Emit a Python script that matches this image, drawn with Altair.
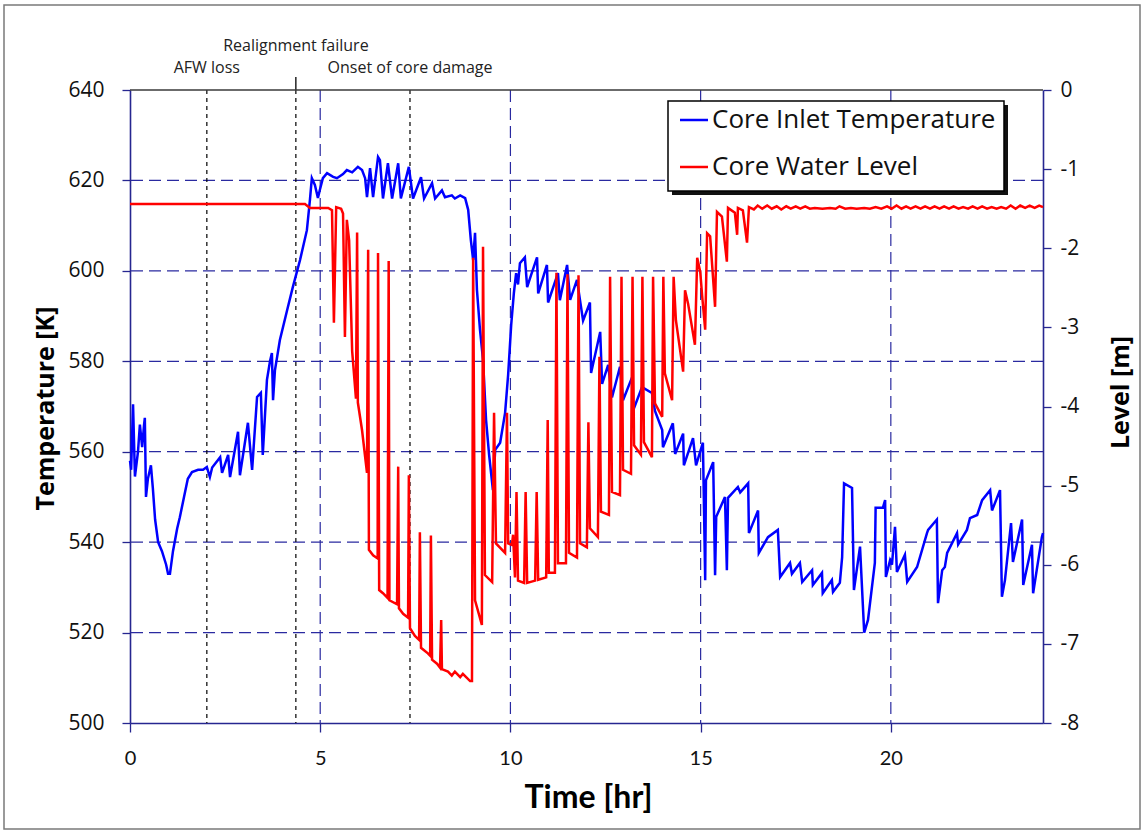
import altair as alt
import pandas as pd

# ---------------- data ----------------
hours_T = [0.00, 0.03, 0.08, 0.13, 0.21, 0.26, 0.32, 0.37, 0.39, 0.42, 0.47, 0.55, 0.60, 0.66, 0.74,
           0.84, 0.95, 1.00, 1.05, 1.13, 1.24, 1.31, 1.42, 1.52, 1.63, 1.79, 1.92, 2.02, 2.10, 2.16,
           2.37, 2.42, 2.58, 2.63, 2.84, 2.89, 3.10, 3.21, 3.34, 3.44, 3.49, 3.60, 3.68, 3.73, 3.76,
           3.81, 3.94, 4.13, 4.28, 4.47, 4.65, 4.73, 4.78, 4.86, 4.94, 4.99, 5.07, 5.18, 5.34, 5.44,
           5.60, 5.70, 5.84, 5.99, 6.10, 6.18, 6.23, 6.31, 6.39, 6.52, 6.57, 6.65, 6.78, 6.89, 7.05,
           7.12, 7.33, 7.44, 7.65, 7.73, 7.94, 8.02, 8.20, 8.28, 8.46, 8.54, 8.68, 8.81, 8.89, 8.96,
           9.02, 9.07, 9.12, 9.20, 9.28, 9.36, 9.44, 9.54, 9.60, 9.73, 9.86, 9.94, 10.02, 10.09, 10.15,
           10.20, 10.25, 10.38, 10.44, 10.54, 10.70, 10.73, 10.96, 10.99, 11.25, 11.30, 11.49, 11.57,
           11.75, 11.91, 12.09, 12.12, 12.36, 12.41, 12.57, 12.67, 12.88, 12.96, 13.20, 13.22, 13.46,
           13.72, 13.80, 13.99, 14.01, 14.27, 14.33, 14.54, 14.56, 14.80, 14.88, 15.06, 15.12, 15.14,
           15.33, 15.38, 15.41, 15.64, 15.69, 15.72, 15.98, 16.04, 16.25, 16.27, 16.51, 16.53, 16.77,
           17.03, 17.09, 17.35, 17.40, 17.61, 17.67, 17.93, 17.95, 18.19, 18.21, 18.45, 18.48, 18.66,
           18.72, 18.77, 18.98, 19.03, 19.19, 19.30, 19.40, 19.58, 19.60, 19.79, 19.85, 19.87, 19.98,
           20.03, 20.11, 20.16, 20.37, 20.43, 20.69, 20.95, 20.98, 21.21, 21.24, 21.35, 21.42, 21.48,
           21.74, 21.77, 22.00, 22.08, 22.27, 22.40, 22.61, 22.66, 22.87, 22.92, 23.00, 23.16, 23.21,
           23.45, 23.48, 23.71, 23.74, 23.97, 24.00]
temp_K = [558, 556, 570.5, 554.5, 560, 566, 561, 566, 567.5, 550, 554, 557, 552, 545, 540,
          538, 535, 533, 533, 538, 543, 545.5, 550, 554, 555.5, 556, 556, 556.6, 554.4, 556.5,
          558.8, 555.3, 559.3, 554.4, 564.4, 554.8, 566.4, 556, 572.1, 573, 559.3, 575.9, 580, 581.8, 571.4,
          578, 584.7, 591.3, 596.4, 602.4, 609, 615.7, 620.5, 619, 616.1, 617.9, 620.5, 621.6, 620.8, 620.5,
          621.4, 622.3, 621.8, 623, 622.3, 620.5, 616.3, 622.7, 616.3, 625.2, 624.5, 616, 623.8, 616, 623.8,
          616, 623, 616, 620.7, 616, 619.4, 616, 617.8, 616.3, 616.7, 616, 616.7, 616.1, 613.5, 606.8,
          602.4, 608.4, 595.8, 587, 580.3, 567, 559.3, 551.5, 560.4, 562, 568.6, 577, 588, 595, 599.5,
          597, 601.7, 603, 596.4, 599, 603, 595, 601.3, 593, 599.5, 593.5, 601.3, 593.6,
          598, 589, 593, 577.4, 586.5, 575, 579.2, 572, 578.8, 571.4, 576.5, 569, 574.3,
          573, 569, 564.8, 561, 566.3, 559.5, 564, 557, 563, 557, 562, 531.6, 553.7,
          557.7, 532.7, 545.6, 550, 533.8, 549.8, 552.2, 551, 553, 542, 547, 537.6, 541.1,
          542.7, 532.3, 535.4, 533, 535.4, 531.2, 533.8, 530.5, 533.2, 528.7, 531.6, 529, 531,
          536.7, 553, 552, 529.4, 539, 520, 522.8, 535.4, 547.6, 547.6, 549.3, 532.3, 536,
          535, 543.4, 533.4, 537.2, 531.2, 534.5, 542, 542.7, 545, 526.5, 533.8, 534.5, 537.6,
          542, 539.5, 542.7, 545.3, 546, 549.3, 551.5, 547, 551.5, 527.9, 531.6, 544.2, 535.6,
          545, 530.5, 539.4, 528.7, 541.1, 542]

hours_L = [0.00, 4.60, 4.73, 5.21, 5.31, 5.36, 5.42, 5.55, 5.60, 5.65, 5.70, 5.76, 5.84, 5.94, 5.97,
           5.99, 6.10, 6.23, 6.26, 6.28, 6.39, 6.51, 6.52, 6.55, 6.65, 6.77, 6.80, 6.82, 7.02, 7.05,
           7.07, 7.18, 7.31, 7.33, 7.36, 7.49, 7.60, 7.62, 7.65, 7.83, 7.89, 7.91, 7.94, 8.07, 8.15,
           8.18, 8.20, 8.36, 8.46, 8.54, 8.68, 8.75, 8.94, 8.99, 9.02, 9.07, 9.25, 9.28, 9.33, 9.52,
           9.57, 9.62, 9.86, 9.91, 9.94, 10.04, 10.07, 10.12, 10.16, 10.20, 10.36, 10.40, 10.44, 10.65,
           10.69, 10.73, 10.94, 10.98, 11.01, 11.17, 11.21, 11.25, 11.46, 11.50, 11.54, 11.75, 11.79,
           11.83, 12.01, 12.05, 12.09, 12.30, 12.34, 12.38, 12.59, 12.62, 12.67, 12.88, 12.92, 12.96,
           13.17, 13.21, 13.25, 13.43, 13.47, 13.51, 13.72, 13.75, 13.80, 13.99, 14.02, 14.06, 14.25,
           14.29, 14.35, 14.54, 14.59, 14.67, 14.85, 14.91, 14.99, 15.04, 15.12, 15.17, 15.25, 15.38,
           15.43, 15.56, 15.69, 15.72, 15.90, 15.96, 15.98, 16.11, 16.22, 16.27, 16.40, 16.50, 16.62,
           16.75, 16.87, 17.00, 17.12, 17.25, 17.37, 17.50, 17.62, 17.75, 17.87, 18.00, 18.20, 18.40,
           18.55, 18.65, 18.80, 18.95, 19.10, 19.30, 19.45, 19.60, 19.75, 19.90, 20.02, 20.15, 20.28,
           20.40, 20.52, 20.65, 20.78, 20.90, 21.03, 21.15, 21.28, 21.40, 21.53, 21.65, 21.78, 21.90,
           22.03, 22.15, 22.28, 22.40, 22.53, 22.65, 22.78, 22.90, 23.03, 23.15, 23.28, 23.40, 23.53,
           23.65, 23.78, 23.90, 24.00]
level_m = [-1.44, -1.44, -1.49, -1.49, -1.52, -2.94, -1.48, -1.50, -1.56, -3.12, -1.64, -1.90, -3.30, -3.90, -1.80,
           -3.95, -4.30, -4.84, -2.02, -5.81, -5.88, -5.92, -2.06, -6.32, -6.36, -6.42, -2.16, -6.45, -6.50, -4.76,
           -6.55, -6.62, -6.67, -4.87, -6.80, -6.90, -6.95, -5.59, -7.05, -7.12, -7.15, -5.63, -7.20, -7.25, -7.30,
           -6.70, -7.32, -7.35, -7.40, -7.35, -7.42, -7.38, -7.47, -7.47, -2.12, -6.45, -6.76, -1.98, -6.13, -6.22,
           -4.08, -5.73, -5.85, -4.08, -5.73, -5.75, -5.62, -6.16, -5.08, -6.20, -6.23, -5.08, -6.23, -6.20,
           -5.08, -6.19, -6.16, -4.17, -6.10, -6.10, -2.31, -5.98, -5.98, -2.33, -5.85, -5.91, -2.34,
           -5.73, -5.78, -4.20, -5.54, -5.65, -3.37, -5.33, -5.37, -2.36, -5.08, -5.12, -2.36, -4.80,
           -4.85, -2.36, -4.49, -4.61, -2.36, -4.45, -4.64, -2.36, -3.96, -4.13, -2.36, -3.58, -3.92,
           -2.36, -2.91, -3.56, -2.53, -2.70, -3.22, -2.12, -2.30, -2.60, -3.03, -1.81, -1.85, -2.74,
           -1.54, -1.60, -2.17, -1.49, -1.55, -1.83, -1.49, -1.52, -1.93, -1.48, -1.51, -1.46, -1.50,
           -1.46, -1.50, -1.47, -1.51, -1.47, -1.50, -1.47, -1.50, -1.47, -1.50, -1.49, -1.50, -1.49,
           -1.50, -1.47, -1.50, -1.49, -1.50, -1.49, -1.50, -1.48, -1.50, -1.47, -1.50, -1.46, -1.50,
           -1.47, -1.50, -1.47, -1.50, -1.47, -1.50, -1.47, -1.50, -1.47, -1.50, -1.47, -1.50, -1.48,
           -1.50, -1.47, -1.50, -1.47, -1.50, -1.48, -1.50, -1.48, -1.50, -1.46, -1.50, -1.46, -1.49,
           -1.46, -1.49, -1.46, -1.48]

event_hours = [2.02, 4.36, 7.36]
event_names = ["AFW loss", "Realignment failure", "Onset of core damage"]
temp_grid = [520, 540, 560, 580, 600, 620]
time_grid = [5, 10, 15, 20]
time_ticks = [0, 5, 10, 15, 20]
temp_ticks = [500, 520, 540, 560, 580, 600, 620, 640]
level_ticks = [0, -1, -2, -3, -4, -5, -6, -7, -8]
series_names = ["Core Inlet Temperature", "Core Water Level"]

# ---------------- tables ----------------
df_T = pd.DataFrame({"t": hours_T, "T": temp_K})
df_L = pd.DataFrame({"t": hours_L, "L": level_m})
df_ev = pd.DataFrame({"t": event_hours, "name": event_names})
df_hg = pd.DataFrame({"T": temp_grid})
df_vg = pd.DataFrame({"t": time_grid})
one = pd.DataFrame({"a": [0]})

W, H = 913, 633
NAVY = "#262690"
GRIDC = "#2a2aa0"
BLUE = "#0000FF"
RED = "#FF0000"

x_scale = alt.Scale(domain=[0, 24], nice=False, zero=False)
t_scale = alt.Scale(domain=[500, 640], nice=False, zero=False)
l_scale = alt.Scale(domain=[-8, 0], nice=False, zero=False)

x_axis = alt.Axis(values=time_ticks, title="Time [hr]", titleFont="Lato", titleFontSize=32,
                  titleFontWeight="bold", titleColor="#000", titleX=458, titleY=74,
                  titleAlign="center", titleBaseline="middle",
                  labelFont="Lato", labelFontSize=20, labelColor="#111", labelPadding=16,
                  tickSize=9, tickColor=NAVY, tickWidth=1.3, domainColor=NAVY, domainWidth=1.6,
                  grid=False, labelFlush=False)
y_axis = alt.Axis(values=temp_ticks, title="Temperature [K]", titleFont="Open Sans", titleFontSize=25,
                  titleFontWeight="bold", titleColor="#000", titleX=-85, titleY=318, titleAngle=270,
                  titleAlign="center", titleBaseline="middle",
                  labelFont="Open Sans", labelFontSize=21, labelColor="#111", labelPadding=18,
                  tickSize=8, tickColor=NAVY, tickWidth=1.3, domainColor=NAVY, domainWidth=1.6,
                  grid=False, labelFlush=False)
l_axis = alt.Axis(values=level_ticks, orient="right", title="Level [m]", titleFont="Open Sans",
                  titleFontSize=25, titleFontWeight="bold", titleColor="#000", titleX=77, titleY=302,
                  titleAngle=270, titleAlign="center", titleBaseline="middle",
                  labelExpr="'' + datum.value",
                  labelFont="Open Sans", labelFontSize=21, labelColor="#111", labelPadding=9,
                  tickSize=8, tickColor=NAVY, tickWidth=1.3, domainColor=NAVY, domainWidth=1.6,
                  grid=False, labelFlush=False)

X = alt.X("t:Q", scale=x_scale, axis=x_axis, title="Time [hr]")

# ---------------- left (temperature) group ----------------
frame = alt.Chart(one).mark_rect(fill="white", fillOpacity=0, stroke="#7a7a7a", strokeWidth=1.5).encode(
    x=alt.value(-126), x2=alt.value(1010), y=alt.value(-85), y2=alt.value(739))

vgrid = alt.Chart(df_vg).mark_rule(color=GRIDC, strokeDash=[12, 6], strokeWidth=1.2).encode(x=X)
hgrid = alt.Chart(df_hg).mark_rule(color=GRIDC, strokeDash=[12, 6], strokeWidth=1.2).encode(
    y=alt.Y("T:Q", scale=t_scale, axis=y_axis, title="Temperature [K]"))

ev_lines = alt.Chart(df_ev).mark_rule(color="#000", strokeDash=[4, 4], strokeWidth=1.2).encode(x=X)
ev_tick = alt.Chart(df_ev).transform_filter(alt.datum.name == "Realignment failure").mark_rule(
    color="#000", strokeWidth=1.3).encode(x=X, y=alt.value(-13), y2=alt.value(0))
ev_text_low = alt.Chart(df_ev).transform_filter(alt.datum.name != "Realignment failure").mark_text(
    font="Open Sans", fontSize=16, color="#222", baseline="middle", align="center").encode(
    x=X, y=alt.value(-22), text="name:N")
ev_text_high = alt.Chart(df_ev).transform_filter(alt.datum.name == "Realignment failure").mark_text(
    font="Open Sans", fontSize=16, color="#222", baseline="middle", align="center").encode(
    x=X, y=alt.value(-44), text="name:N")

temp_line = alt.Chart(df_T).mark_line(color=BLUE, strokeWidth=2.5).encode(
    x=X, y=alt.Y("T:Q", scale=t_scale, axis=y_axis, title="Temperature [K]"))

left = alt.layer(frame, vgrid, hgrid, ev_lines, ev_tick, ev_text_low, ev_text_high, temp_line)

# ---------------- right (level) group ----------------
level_line = alt.Chart(df_L).mark_line(color=RED, strokeWidth=2.5).encode(
    x=X, y=alt.Y("L:Q", scale=l_scale, axis=l_axis, title="Level [m]"))

top_border = alt.Chart(one).mark_rule(color="#3a3a3a", strokeWidth=1.6).encode(
    x=alt.value(0), x2=alt.value(W), y=alt.value(0))

# legend box (with shadow)
leg_shadow = alt.Chart(one).mark_rect(fill="#111").encode(
    x=alt.value(542), x2=alt.value(878), y=alt.value(15), y2=alt.value(105))
leg_box = alt.Chart(one).mark_rect(fill="white", stroke="#000", strokeWidth=1.5).encode(
    x=alt.value(538), x2=alt.value(874), y=alt.value(11), y2=alt.value(101))
leg_sym1 = alt.Chart(one).mark_rule(color=BLUE, strokeWidth=2.5).encode(
    x=alt.value(550), x2=alt.value(578), y=alt.value(30))
leg_sym2 = alt.Chart(one).mark_rule(color=RED, strokeWidth=2.5).encode(
    x=alt.value(550), x2=alt.value(578), y=alt.value(77))
leg_txt1 = alt.Chart(one).mark_text(font="Open Sans", fontSize=26, color="#111", align="left",
                                    baseline="middle", text=series_names[0]).encode(
    x=alt.value(582), y=alt.value(30))
leg_txt2 = alt.Chart(one).mark_text(font="Open Sans", fontSize=26, color="#111", align="left",
                                    baseline="middle", text=series_names[1]).encode(
    x=alt.value(582), y=alt.value(77))

right = alt.layer(level_line, top_border, leg_shadow, leg_box, leg_sym1, leg_sym2, leg_txt1, leg_txt2)

chart = alt.layer(left, right).resolve_scale(y="independent").properties(
    width=W, height=H,
    padding={"left": 130, "top": 90, "right": 101, "bottom": 110},
    autosize=alt.AutoSizeParams(type="none"),
    background="white",
).configure_view(stroke=None)

chart.save("out.html", embed_options={"renderer": "svg", "actions": False})
